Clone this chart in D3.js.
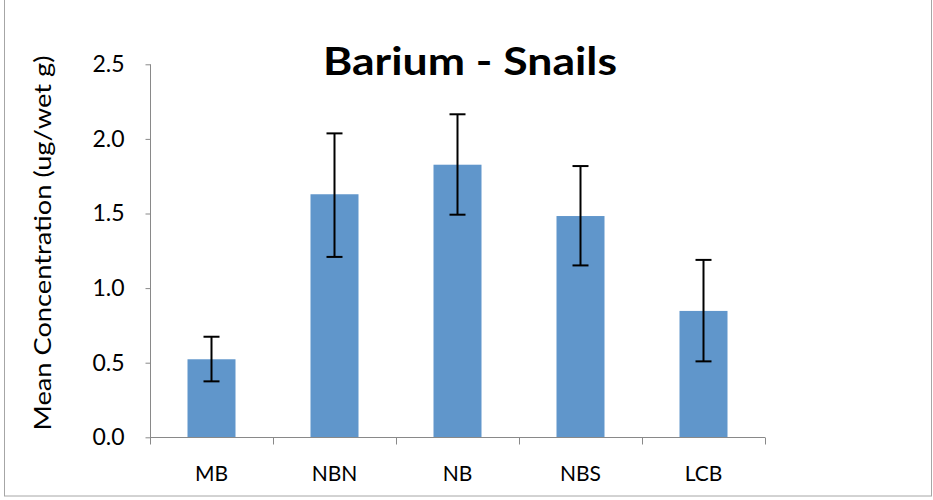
<!DOCTYPE html>
<html><head><meta charset="utf-8">
<script src="https://cdn.jsdelivr.net/npm/d3@7"></script>
<style>body{margin:0;background:#fff}svg{display:block}</style>
</head><body>
<svg id="c" width="933" height="500"></svg>
<script>
const categories = ["MB","NBN","NB","NBS","LCB"];
const means = [0.523, 1.629, 1.827, 1.483, 0.847];
const lower = [0.375, 1.209, 1.492, 1.152, 0.509];
const upper = [0.674, 2.037, 2.165, 1.818, 1.189];
const yTicks = [0.0, 0.5, 1.0, 1.5, 2.0, 2.5];
const titleText = "Barium - Snails";
const yLabel = "Mean Concentration (ug/wet g)";

const svg = d3.select("#c");
const font = "Lato, 'Open Sans', sans-serif";
const axisColor = "#898989";

// chart frame
svg.append("rect").attr("x",4.5).attr("y",-2).attr("width",927).attr("height",498)
  .attr("fill","#fff").attr("stroke","#a6a6a6").attr("stroke-width",1);

const xOuter = d3.scaleBand().domain(categories).range([150, 765]);
const y = d3.scaleLinear().domain([0, 2.5]).range([437.3, 64.3]);

// bars
svg.append("g").selectAll("rect").data(categories).join("rect")
  .attr("x", d => xOuter(d) + xOuter.bandwidth()/2 - 24)
  .attr("width", 48)
  .attr("y", (d,i) => y(means[i]))
  .attr("height", (d,i) => y(0) - y(means[i]))
  .attr("fill", "#6096cb");

// y axis
const yAxis = svg.append("g").attr("transform","translate(150.5,0)")
  .call(d3.axisLeft(y).tickValues(yTicks).tickFormat(d3.format(".1f")).tickSize(5).tickPadding(21));
yAxis.select(".domain").attr("stroke", axisColor).attr("d", `M0,${y(2.5)}V${y(0)}`);
yAxis.selectAll(".tick line").attr("stroke", axisColor);
yAxis.selectAll(".tick text").attr("font-family", font).attr("font-size", 23).attr("fill","#000");

// x axis
const xAxisG = svg.append("g").attr("transform", `translate(0,${Math.round(y(0))+0.5})`);
xAxisG.append("line").attr("x1",150).attr("x2",765).attr("stroke",axisColor);
const bounds = categories.map(d => xOuter(d)).concat([xOuter(categories[categories.length-1]) + xOuter.bandwidth()]);
xAxisG.selectAll("line.t").data(bounds).join("line").attr("class","t")
  .attr("x1", d => Math.round(d)+0.5).attr("x2", d => Math.round(d)+0.5)
  .attr("y1",0).attr("y2",7).attr("stroke",axisColor);
xAxisG.selectAll("text").data(categories).join("text")
  .attr("x", d => xOuter(d) + xOuter.bandwidth()/2)
  .attr("y", 43)
  .attr("text-anchor","middle")
  .attr("font-family", font).attr("font-size", 21).attr("fill","#000")
  .text(d => d);

// error bars
const eb = svg.append("g").attr("stroke","#000").attr("stroke-width",2);
categories.forEach((c,i) => {
  const cx = xOuter(c) + xOuter.bandwidth()/2;
  eb.append("line").attr("x1",cx).attr("x2",cx).attr("y1",y(lower[i])).attr("y2",y(upper[i]));
  eb.append("line").attr("x1",cx-8).attr("x2",cx+8).attr("y1",y(lower[i])).attr("y2",y(lower[i]));
  eb.append("line").attr("x1",cx-8).attr("x2",cx+8).attr("y1",y(upper[i])).attr("y2",y(upper[i]));
});

// title
svg.append("text").attr("x", 470).attr("y", 75).attr("text-anchor","middle")
  .attr("font-family", font).attr("font-weight","bold").attr("font-size", 39)
  .attr("textLength", 294).attr("lengthAdjust","spacingAndGlyphs")
  .attr("fill","#000").text(titleText);

// y label
svg.append("text").attr("transform", "translate(51,243) rotate(-90)")
  .attr("text-anchor","middle")
  .attr("font-family", font).attr("font-size", 24)
  .attr("textLength", 375).attr("lengthAdjust","spacingAndGlyphs")
  .attr("fill","#000")
  .text(yLabel);
</script>
</body></html>
